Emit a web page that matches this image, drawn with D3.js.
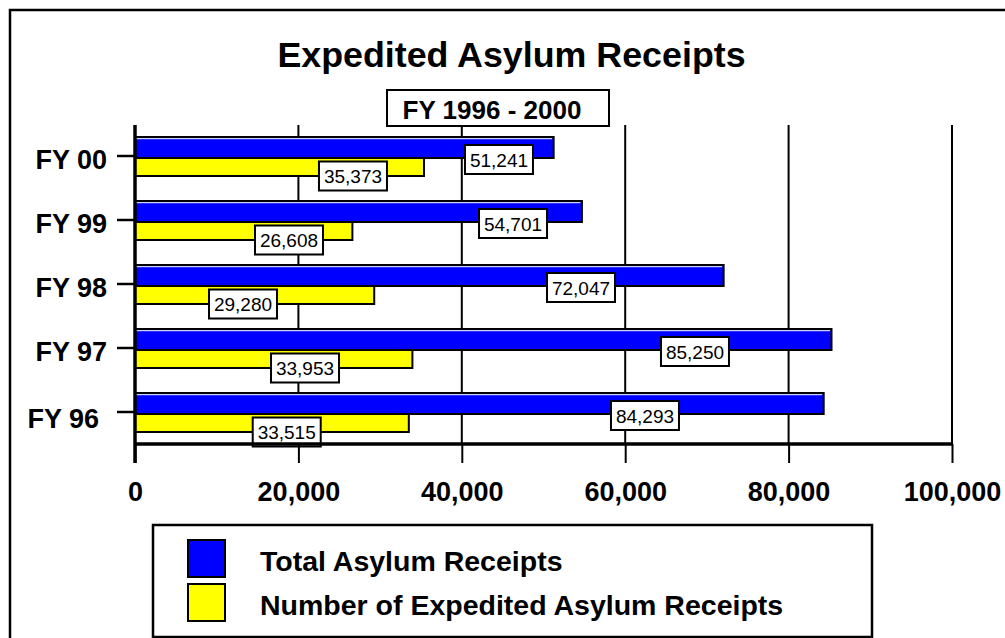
<!DOCTYPE html>
<html lang="en">
<head>
<meta charset="UTF-8">
<title>Expedited Asylum Receipts</title>
<script src="https://d3js.org/d3.v7.min.js"></script>
<style>
  body { margin: 0; background: #fff; }
  svg text { font-family: Arial, "Liberation Sans", sans-serif; fill: #000; }
</style>
</head>
<body>
<svg width="1005" height="638"></svg>
<script>
// data
const years = ["FY 00", "FY 99", "FY 98", "FY 97", "FY 96"];
const totalReceipts = [51241, 54701, 72047, 85250, 84293];
const expeditedReceipts = [35373, 26608, 29280, 33953, 33515];
const xTicks = [0, 20000, 40000, 60000, 80000, 100000];
const seriesNames = ["Total Asylum Receipts", "Number of Expedited Asylum Receipts"];

// where each value box sits along the value axis (in receipts)
const totalLabelAt = [44550, 46270, 54590, 68540, 62420];
const expeditedLabelAt = [26680, 18850, 13220, 20810, 18570];

const BLUE = "#0000ff", YELLOW = "#ffff00";

const svg = d3.select("svg");
const fmt = d3.format(",");

const x = d3.scaleLinear().domain([0, 100000]).range([135, 952]);
const y = d3.scaleBand().domain(years).range([124, 444]);
const mid = d => y(d) + y.bandwidth() / 2;

// outer frame (runs off the right and bottom)
svg.append("path")
    .attr("d", "M10,640 L10,10 L1010,10")
    .attr("fill", "none").attr("stroke", "#000").attr("stroke-width", 2.5);

// title
svg.append("text")
    .attr("x", 511.5).attr("y", 67)
    .attr("text-anchor", "middle")
    .style("font-size", "35.8px").style("font-weight", "bold")
    .text("Expedited Asylum Receipts");

// grid lines
svg.append("g").selectAll("line")
    .data(xTicks)
    .join("line")
    .attr("x1", d => x(d)).attr("x2", d => x(d))
    .attr("y1", 125).attr("y2", 444)
    .attr("stroke", "#000").attr("stroke-width", 2);

// subtitle box
svg.append("rect")
    .attr("x", 387).attr("y", 90).attr("width", 222).attr("height", 36)
    .attr("fill", "#fff").attr("stroke", "#000").attr("stroke-width", 2);
svg.append("text")
    .attr("x", 492).attr("y", 119)
    .attr("text-anchor", "middle")
    .style("font-size", "26px").style("font-weight", "bold")
    .text("FY 1996 - 2000");

// bars
const rows = years.map((yr, i) => ({
    yr, total: totalReceipts[i], exp: expeditedReceipts[i],
    totalAt: totalLabelAt[i], expAt: expeditedLabelAt[i]
}));

const bars = svg.append("g");
bars.selectAll("rect.total")
    .data(rows).join("rect").attr("class", "total")
    .attr("x", x(0)).attr("y", d => mid(d.yr) - 19)
    .attr("width", d => x(d.total) - x(0)).attr("height", 21)
    .attr("fill", BLUE).attr("stroke", "#000").attr("stroke-width", 2);
bars.selectAll("line.shine")
    .data(rows).join("line").attr("class", "shine")
    .attr("x1", x(0)).attr("x2", d => x(d.total) - 1.5)
    .attr("y1", d => mid(d.yr) - 17.3).attr("y2", d => mid(d.yr) - 17.3)
    .attr("stroke", "#fff").attr("stroke-width", 1);
bars.selectAll("rect.exp")
    .data(rows).join("rect").attr("class", "exp")
    .attr("x", x(0)).attr("y", d => mid(d.yr) + 2)
    .attr("width", d => x(d.exp) - x(0)).attr("height", 18)
    .attr("fill", YELLOW).attr("stroke", "#000").attr("stroke-width", 2);

// value boxes
function valueBox(g, cx, cy, v) {
    g.append("rect")
        .attr("x", cx - 34).attr("y", cy - 14.5)
        .attr("width", 68).attr("height", 29)
        .attr("fill", "#fff").attr("stroke", "#000").attr("stroke-width", 2);
    g.append("text")
        .attr("x", cx).attr("y", cy + 7)
        .attr("text-anchor", "middle")
        .style("font-size", "19px")
        .text(fmt(v));
}
const labels = svg.append("g");
rows.forEach(d => {
    valueBox(labels, x(d.totalAt), mid(d.yr) + 3.5, d.total);
    valueBox(labels, x(d.expAt), mid(d.yr) + 20, d.exp);
});

// x axis
const xAxis = svg.append("g")
    .attr("transform", "translate(0,444)")
    .call(d3.axisBottom(x).tickValues(xTicks).tickFormat(fmt).tickSize(19).tickPadding(19));
xAxis.select(".domain").attr("stroke", "#000").attr("stroke-width", 3.5)
    .attr("d", `M${x(0)},0H${x(100000)}`);
xAxis.selectAll(".tick line").attr("stroke", "#000").attr("stroke-width", 2);
xAxis.selectAll(".tick text")
    .style("font-size", "27px").style("font-weight", "bold")
    .style("font-family", "Arial, 'Liberation Sans', sans-serif").attr("fill", "#000");

// y axis
const yAxis = svg.append("g")
    .attr("transform", `translate(${x(0)},0)`)
    .call(d3.axisLeft(y).tickSize(18).tickPadding(10));
yAxis.select(".domain").attr("stroke", "#000").attr("stroke-width", 3.5)
    .attr("d", "M0,125V463");
yAxis.selectAll(".tick line").attr("stroke", "#000").attr("stroke-width", 2.5);
yAxis.selectAll(".tick text")
    .attr("dy", "0.47em")
    .style("font-size", "27px").style("font-weight", "bold")
    .style("font-family", "Arial, 'Liberation Sans', sans-serif").attr("fill", "#000");
// the last category label sits a little left and low in the original
yAxis.selectAll(".tick text").filter(d => d === "FY 96")
    .attr("x", -36).attr("dy", "0.58em");

// legend
const legend = svg.append("g");
legend.append("rect")
    .attr("x", 153).attr("y", 525).attr("width", 719).attr("height", 112)
    .attr("fill", "#fff").attr("stroke", "#000").attr("stroke-width", 2.5);
const legendRows = legend.selectAll("g.item")
    .data(seriesNames).join("g").attr("class", "item")
    .attr("transform", (d, i) => `translate(188,${540 + i * 44})`);
legendRows.append("rect")
    .attr("width", 37).attr("height", 37)
    .attr("fill", (d, i) => i === 0 ? BLUE : YELLOW)
    .attr("stroke", "#000").attr("stroke-width", 2);
legendRows.append("text")
    .attr("x", 72).attr("y", 31)
    .style("font-size", "28.5px").style("font-weight", "bold")
    .text(d => d);
</script>
</body>
</html>
